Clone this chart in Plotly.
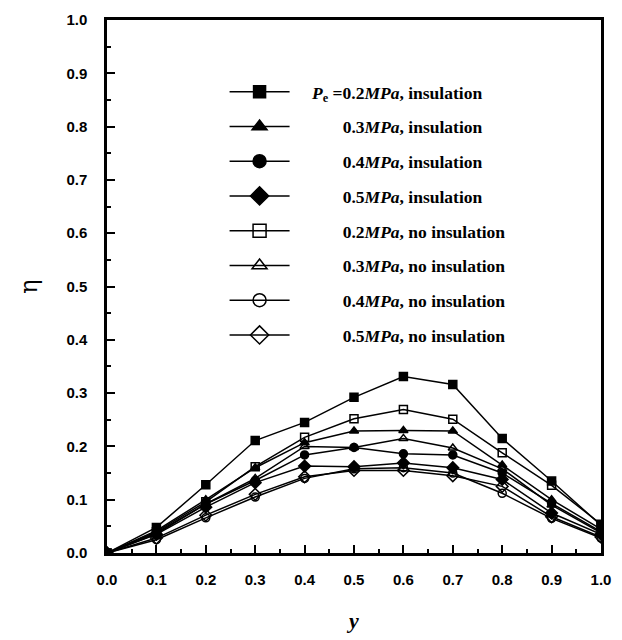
import plotly.graph_objects as go

y_pos = [0.0, 0.1, 0.2, 0.3, 0.4, 0.5, 0.6, 0.7, 0.8, 0.9, 1.0]

eta_02_ins = [0, 0.048, 0.128, 0.211, 0.245, 0.292, 0.331, 0.316, 0.215, 0.135, 0.052]
eta_03_ins = [0, 0.042, 0.100, 0.160, 0.207, 0.229, 0.230, 0.229, 0.165, 0.100, 0.045]
eta_04_ins = [0, 0.038, 0.092, 0.136, 0.184, 0.198, 0.186, 0.184, 0.150, 0.093, 0.040]
eta_05_ins = [0, 0.035, 0.086, 0.132, 0.163, 0.162, 0.169, 0.160, 0.138, 0.075, 0.035]
eta_02_no = [0, 0.040, 0.096, 0.162, 0.217, 0.252, 0.269, 0.251, 0.188, 0.127, 0.054]
eta_03_no = [0, 0.036, 0.092, 0.140, 0.200, 0.198, 0.215, 0.197, 0.158, 0.090, 0.038]
eta_04_no = [0, 0.025, 0.066, 0.105, 0.140, 0.158, 0.160, 0.150, 0.112, 0.065, 0.028]
eta_05_no = [0, 0.028, 0.071, 0.110, 0.143, 0.155, 0.155, 0.145, 0.125, 0.068, 0.030]

pad = "\u00a0" * 4
ind = "\u00a0" * 7
names = [
    pad + "<i>P</i><sub>e</sub> =0.2<i>MPa</i>, insulation",
    pad + ind + "0.3<i>MPa</i>, insulation",
    pad + ind + "0.4<i>MPa</i>, insulation",
    pad + ind + "0.5<i>MPa</i>, insulation",
    pad + ind + "0.2<i>MPa</i>, no insulation",
    pad + ind + "0.3<i>MPa</i>, no insulation",
    pad + ind + "0.4<i>MPa</i>, no insulation",
    pad + ind + "0.5<i>MPa</i>, no insulation",
]
series = [eta_02_ins, eta_03_ins, eta_04_ins, eta_05_ins,
          eta_02_no, eta_03_no, eta_04_no, eta_05_no]
symbols = ["square", "triangle-up", "circle", "diamond",
           "square-open", "triangle-up-open", "circle-open", "diamond-open"]
sizes = [8, 8, 8, 9, 8, 8, 8, 9]
legend_sizes = [12, 13, 13, 14, 13, 13, 13, 14]

fig = go.Figure()
for i, (nm, s, sym, sz) in enumerate(zip(names, series, symbols, sizes)):
    fig.add_trace(go.Scatter(
        x=y_pos, y=s, name=nm, mode="lines+markers",
        legendgroup=f"g{i}", showlegend=False,
        line=dict(color="black", width=1.5),
        marker=dict(symbol=sym, size=sz, color="black",
                    line=dict(color="black", width=1.5)),
    ))
# legend entries (larger symbols, as in the reference key)
for i, (nm, sym, lsz) in enumerate(zip(names, symbols, legend_sizes)):
    fig.add_trace(go.Scatter(
        x=[None], y=[None], name=nm, mode="lines+markers",
        legendgroup=f"g{i}", showlegend=True,
        line=dict(color="black", width=1.5),
        marker=dict(symbol=sym, size=lsz, color="black",
                    line=dict(color="black", width=1.5)),
    ))

axis_common = dict(
    showline=True, linecolor="black", linewidth=2.5, mirror=True,
    ticks="inside", ticklen=8, tickwidth=2, tickcolor="black",
    showgrid=False, zeroline=False,
    tickfont=dict(family="Liberation Sans", size=15, color="black", weight="bold"),
    minor=dict(ticks="inside", ticklen=4, tickwidth=1.5, tickcolor="black", dtick=0.05),
)

fig.update_layout(
    width=622, height=640,
    paper_bgcolor="white", plot_bgcolor="white",
    margin=dict(l=107, r=16, t=11, b=83),
    showlegend=True,
    legend=dict(
        x=0.238, y=0.899, xanchor="left", yanchor="top",
        bgcolor="rgba(0,0,0,0)", borderwidth=0,
        font=dict(family="Liberation Serif", size=17.5, color="black", weight="bold"),
        traceorder="grouped", tracegroupgap=9,
        itemsizing="trace", itemwidth=60,
    ),
    xaxis=dict(range=[0, 1.0], dtick=0.1, tickformat=".1f",
               ticklabelstandoff=11,
               title=dict(text="<i>y</i>", standoff=26,
                          font=dict(family="Liberation Serif", size=22, color="black", weight="bold")),
               **axis_common),
    yaxis=dict(range=[0, 1.0], dtick=0.1, tickformat=".1f",
               ticklabelstandoff=14,
               title=dict(text="η", standoff=22,
                          font=dict(family="DejaVu Serif", size=24, color="black")),
               **axis_common),
)

fig.write_html("out.html", config={"displayModeBar": False},
               post_script="document.body.style.margin='0px';")
